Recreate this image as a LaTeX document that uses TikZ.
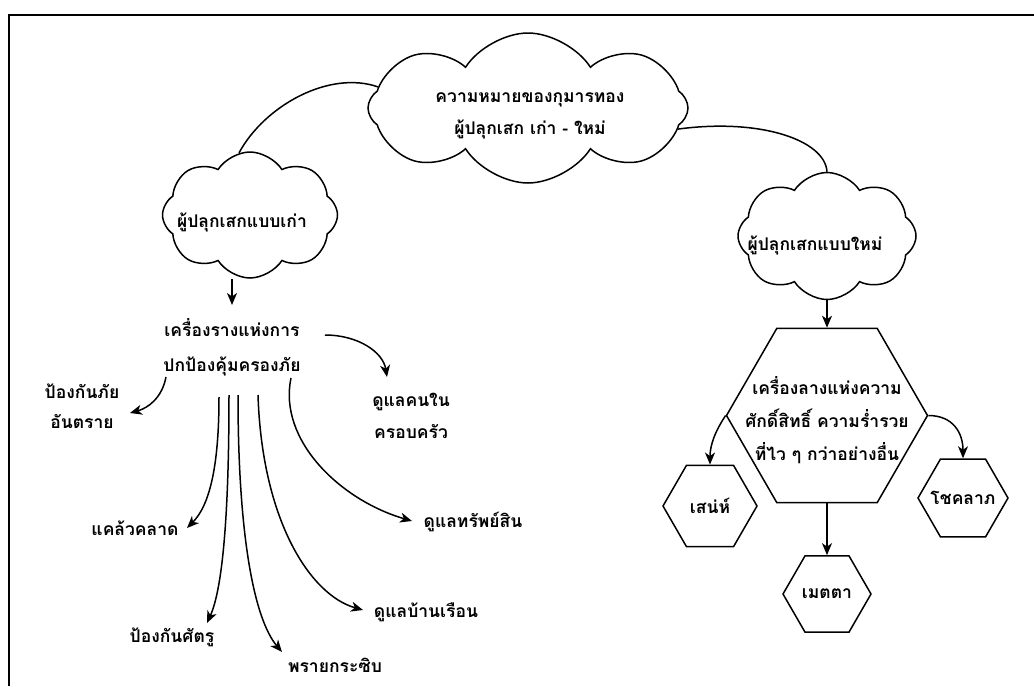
\documentclass[tikz,border=0pt]{standalone}
\usepackage{fontspec}
\newfontfamily\thai[Script=Thai]{Loma}
\usetikzlibrary{shapes.geometric,shapes.symbols,arrows.meta,calc}
\begin{document}
\begin{tikzpicture}[x=1pt,y=-1pt,
  txt/.style={font=\thai\bfseries\fontsize{17.5}{32}\selectfont, align=center, inner sep=0pt},
  cl/.style={cloud, draw, line width=1.5pt, cloud puffs=8, cloud puff arc=115, inner sep=0pt, cloud ignores aspect},
  hexa/.style={regular polygon, regular polygon sides=6, draw, line width=1.5pt, inner sep=0pt},
  arr/.style={line width=1.5pt, -{Stealth[length=12pt,width=10pt,inset=3.5pt]}},
  ln/.style={line width=1.5pt}]
\useasboundingbox (0,0) rectangle (1034,686);
\draw[line width=1.8pt] (1034,15) -- (9,15) -- (9,686);

% clouds
\node[cl, minimum width=320pt, minimum height=150pt] (main) at (528,108) {};
\node[txt] (mainT) at (530,116) {ความหมายของกุมารทอง\\ผู้ปลุกเสก เก่า - ใหม่};
\node[cl, minimum width=175pt, minimum height=126pt] (lc) at (250,215) {};
\node[txt] (lcT) at (242,222) {ผู้ปลุกเสกแบบเก่า};
\node[cl, minimum width=178pt, minimum height=127pt] (rc) at (827,236) {};
\node[txt] (rcT) at (815,245) {ผู้ปลุกเสกแบบใหม่};

\draw[ln] (main.172) .. controls (330,70) and (265,105) .. (lc.100);
\draw[ln] (main.-8) .. controls (760,118) and (825,140) .. (rc.north);

% left tree
\node[txt, font=\thai\bfseries\fontsize{17.5}{35}\selectfont] (root) at (232,347) {เครื่องรางแห่งการ\\ปกป้องคุ้มครองภัย};
\draw[arr] (lc.south -| root.north) -- ($(root.center)+(0,-42)$);

\node[txt] (care) at (411,416) {ดูแลคนใน\\ครอบครัว};
\node[txt, font=\thai\bfseries\fontsize{17.5}{30}\selectfont] (prot) at (82,406) {ป้องกันภัย\\อันตราย};
\node[txt] (kk) at (135,528) {แคล้วคลาด};
\node[txt] (enemy) at (172,637) {ป้องกันศัตรู};
\node[txt] (whisper) at (335,665) {พรายกระซิบ};
\node[txt] (house) at (426,612) {ดูแลบ้านเรือน};
\node[txt] (wealth) at (473,522) {ดูแลทรัพย์สิน};

\draw[arr] ($(root.center)+(93,-12)$) .. controls (358,335) and (383,352) .. ($(care.center)+(-24,-39)$);
\draw[arr] ($(root.center)+(-66,30)$) .. controls (162,398) and (148,408) .. ($(prot.center)+(48,7)$);
\draw[arr] ($(root.center)+(-13,50)$) .. controls (219,465) and (210,505) .. ($(kk.center)+(52,0)$);
\draw[arr] ($(root.center)+(-3,48)$) .. controls (229,520) and (222,590) .. ($(enemy.center)+(35,-14)$);
\draw[arr] ($(root.center)+(6,48)$) .. controls (238,540) and (255,620) .. ($(whisper.center)+(-53,-13)$);
\draw[arr] ($(root.center)+(26,48)$) .. controls (262,520) and (310,595) .. ($(house.center)+(-63,-2)$);
\draw[arr] ($(root.center)+(59,31)$) .. controls (278,440) and (340,500) .. ($(wealth.center)+(-61,-1)$);

% right side
\node[hexa, minimum size=201pt] (big) at (827,415.5) {};
\node[txt, font=\thai\bfseries\fontsize{17.5}{33}\selectfont] (bigT) at (827,420) {เครื่องลางแห่งความ\\ศักดิ์สิทธิ์ ความร่ำรวย\\ที่ไว ๆ กว่าอย่างอื่น};
\node[hexa, minimum size=94pt] (sen) at (710,506) {};
\node[txt] (senT) at (sen.center) {เสน่ห์};
\node[hexa, minimum size=88pt] (met) at (827,594) {};
\node[txt] (metT) at (met.center) {เมตตา};
\node[hexa, minimum size=90pt] (chok) at (963,498) {};
\node[txt] (chokT) at (chok.center) {โชคลาภ};

\draw[arr] (rc.south) -- (big.north);
\draw[arr] (big.south) -- (met.north);
\draw[arr] (big.west) .. controls +(-10,15) and +(0,-20) .. (sen.north);
\draw[arr] (big.east) .. controls +(25,0) and +(0,-25) .. (chok.north);
\end{tikzpicture}
\end{document}
